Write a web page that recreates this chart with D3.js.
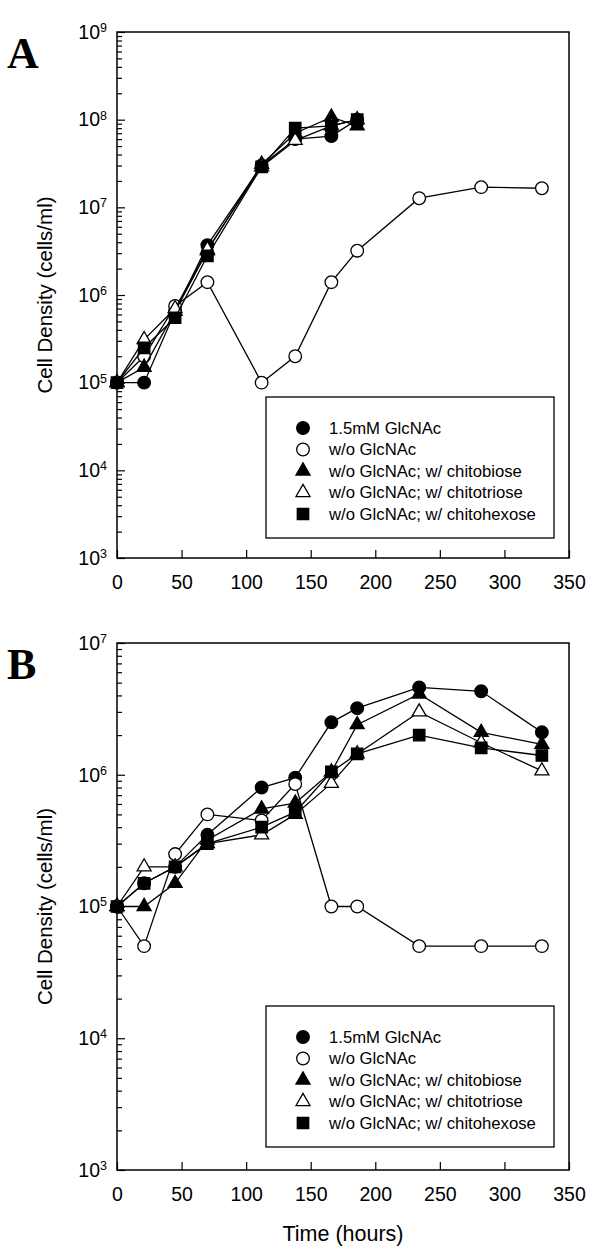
<!DOCTYPE html>
<html>
<head>
<meta charset="utf-8">
<script src="https://cdn.jsdelivr.net/npm/d3@7"></script>
<style>
  body { margin: 0; background: #fff; }
  svg { display: block; font-family: "Liberation Sans", Arial, sans-serif; }
</style>
</head>
<body>
<svg id="chart" width="600" height="1257"></svg>
<script>
// DATA

const hours = [0, 21, 45, 70, 112, 138, 166, 186, 234, 282, 329];

const seriesNames = [
  "1.5mM GlcNAc",
  "w/o GlcNAc",
  "w/o GlcNAc; w/ chitobiose",
  "w/o GlcNAc; w/ chitotriose",
  "w/o GlcNAc; w/ chitohexose"
];

// panel A (cells/ml)
const aGlcNAc     = [1e5, 1e5, 6.5e5, 3.7e6, 3.0e7, 6.0e7, 6.5e7, 1.0e8];
const aNoGlcNAc   = [1e5, 2e5, 7.5e5, 1.4e6, 1.0e5, 2.0e5, 1.4e6, 3.2e6, 1.27e7, 1.7e7, 1.65e7];
const aChitobiose = [1e5, 1.5e5, 6.5e5, 3.2e6, 3.1e7, 7.0e7, 1.07e8, 8.5e7];
const aChitotriose = [1e5, 3.1e5, 7.0e5, 3.3e6, 2.9e7, 5.8e7, 8.5e7, 1.0e8];
const aChitohexose = [1e5, 2.5e5, 5.5e5, 2.8e6, 2.9e7, 8.0e7, 8.5e7, 1.0e8];

// panel B (cells/ml)
const bGlcNAc     = [1e5, 1.5e5, 2.0e5, 3.5e5, 8.0e5, 9.5e5, 2.5e6, 3.2e6, 4.6e6, 4.3e6, 2.1e6];
const bNoGlcNAc   = [1e5, 5e4, 2.5e5, 5.0e5, 4.5e5, 8.5e5, 1e5, 1e5, 5e4, 5e4, 5e4];
const bChitobiose = [1e5, 1e5, 1.5e5, 3.2e5, 5.5e5, 6.1e5, 1.05e6, 2.4e6, 4.1e6, 2.1e6, 1.7e6];
const bChitotriose = [1e5, 2.0e5, 2.0e5, 3.0e5, 3.5e5, 5.0e5, 8.6e5, 1.44e6, 3.0e6, 1.75e6, 1.07e6];
const bChitohexose = [1e5, 1.5e5, 2.0e5, 3.0e5, 4.0e5, 5.2e5, 1.05e6, 1.44e6, 2.0e6, 1.6e6, 1.4e6];

const xTicks = [0, 50, 100, 150, 200, 250, 300, 350];

// MARKERS (same order as seriesNames)
const markers = [
  { shape: d3.symbolCircle,   fill: "#000" },
  { shape: d3.symbolCircle,   fill: "#fff" },
  { shape: d3.symbolTriangle, fill: "#000" },
  { shape: d3.symbolTriangle, fill: "#fff" },
  { shape: d3.symbolSquare,   fill: "#000" }
];
const markerSize = [125, 125, 85, 85, 130];

// LAYOUT
const svg = d3.select("#chart");
const left = 117, right = 569;

const panels = [
  { letter: "A", top: 32, bottom: 558, yDomain: [1e3, 1e9], letterY: 68, legendTop: 397,
    series: [aGlcNAc, aNoGlcNAc, aChitobiose, aChitotriose, aChitohexose] },
  { letter: "B", top: 643, bottom: 1170, yDomain: [1e3, 1e7], letterY: 679, legendTop: 1006,
    series: [bGlcNAc, bNoGlcNAc, bChitobiose, bChitotriose, bChitohexose] }
];

const x = d3.scaleLinear().domain([0, 350]).range([left, right]);

panels.forEach((p) => {
  const y = d3.scaleLog().domain(p.yDomain).range([p.bottom, p.top]);
  const g = svg.append("g");

  // frame
  g.append("rect")
    .attr("x", left).attr("y", p.top)
    .attr("width", right - left).attr("height", p.bottom - p.top)
    .attr("fill", "none").attr("stroke", "#000").attr("stroke-width", 1.5);

  // ── y axis: major ticks with 10^n labels ──
  const lo = Math.log10(p.yDomain[0]), hi = Math.log10(p.yDomain[1]);
  const majors = d3.range(lo, hi + 1).map((e) => Math.pow(10, e));
  const minors = [];
  d3.range(lo, hi).forEach((e) => {
    for (let m = 2; m <= 9; m++) minors.push(m * Math.pow(10, e));
  });

  g.append("g")
    .attr("transform", `translate(${left},0)`)
    .call(d3.axisLeft(y).tickValues(minors).tickSize(-5).tickFormat(""))
    .call((a) => a.select(".domain").remove())
    .call((a) => a.selectAll(".tick line").attr("stroke-width", 1.2));

  const yAxis = g.append("g")
    .attr("transform", `translate(${left},0)`)
    .call(d3.axisLeft(y).tickValues(majors).tickSizeInner(-8).tickSizeOuter(0).tickPadding(10))
    .call((a) => a.select(".domain").remove())
    .call((a) => a.selectAll(".tick line").attr("stroke-width", 1.2));

  yAxis.selectAll(".tick text")
    .attr("font-size", 19.5).attr("fill", "#000")
    .attr("font-family", "Liberation Sans, Arial, sans-serif")
    .each(function (d) {
      const t = d3.select(this).text(null);
      t.append("tspan").text("10");
      t.append("tspan").attr("font-size", 12.5).attr("dy", "-0.55em")
        .text(Math.round(Math.log10(d)));
    });

  // ── x axis ──
  g.append("g")
    .attr("transform", `translate(0,${p.bottom})`)
    .call(d3.axisBottom(x).tickValues(xTicks).tickSizeInner(-8).tickSizeOuter(0).tickPadding(17))
    .call((a) => a.select(".domain").remove())
    .call((a) => a.selectAll(".tick line").attr("stroke-width", 1.2))
    .call((a) => a.selectAll(".tick text").attr("font-size", 19.5).attr("fill", "#000")
      .attr("font-family", "Liberation Sans, Arial, sans-serif"));

  // y title
  g.append("text")
    .attr("transform", `translate(45,${(p.top + p.bottom) / 2}) rotate(-90)`)
    .attr("text-anchor", "middle").attr("dy", "0.35em")
    .attr("font-size", 20.5)
    .text("Cell Density (cells/ml)");

  // panel letter
  g.append("text")
    .attr("x", 7).attr("y", p.letterY)
    .attr("font-family", "Liberation Serif, Times New Roman, serif")
    .attr("font-weight", "bold").attr("font-size", 44)
    .text(p.letter);

  // ── series ──
  const line = d3.line().x((d, i) => x(hours[i])).y((d) => y(d));
  p.series.forEach((vals, si) => {
    g.append("path")
      .datum(vals)
      .attr("d", line)
      .attr("fill", "none").attr("stroke", "#000").attr("stroke-width", 1.3);

    g.selectAll(null)
      .data(vals)
      .join("path")
      .attr("transform", (d, i) => `translate(${x(hours[i])},${y(d)})`)
      .attr("d", d3.symbol(markers[si].shape, markerSize[si]))
      .attr("fill", markers[si].fill)
      .attr("stroke", "#000").attr("stroke-width", 1.3);
  });

  // ── legend ──
  const lg = g.append("g");
  lg.append("rect")
    .attr("x", 266).attr("y", p.legendTop)
    .attr("width", 288).attr("height", 141)
    .attr("fill", "#fff").attr("stroke", "#000").attr("stroke-width", 1.3);

  seriesNames.forEach((name, si) => {
    const cy = p.legendTop + 31 + si * 21.5;
    lg.append("path")
      .attr("transform", `translate(303,${cy})`)
      .attr("d", d3.symbol(markers[si].shape, markerSize[si]))
      .attr("fill", markers[si].fill)
      .attr("stroke", "#000").attr("stroke-width", 1.3);
    lg.append("text")
      .attr("x", 329).attr("y", cy).attr("dy", "0.35em")
      .attr("font-size", 16.7)
      .text(name);
  });
});

// x title (bottom panel only)
svg.append("text")
  .attr("x", (left + right) / 2).attr("y", 1233)
  .attr("text-anchor", "middle").attr("dy", "0.35em")
  .attr("font-size", 21.5)
  .text("Time (hours)");
</script>
</body>
</html>
